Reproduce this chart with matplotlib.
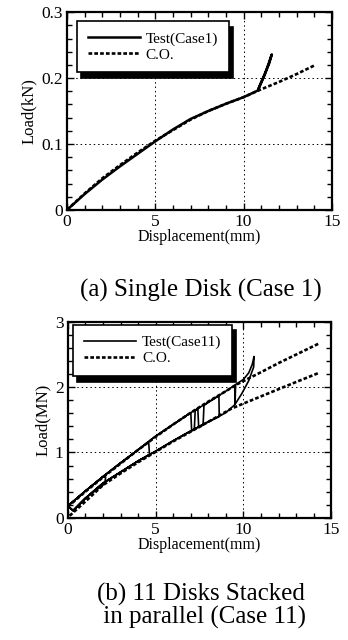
import numpy as np
import matplotlib
matplotlib.use("Agg")
from matplotlib import pyplot as plt
from matplotlib.ticker import MultipleLocator

plt.rcParams['font.family'] = ['Liberation Serif', 'DejaVu Serif']

# Case 1 : single disk
case1_disp = [0, 1, 2, 3, 4, 5, 6, 7, 8, 9, 10, 10.8, 11.2, 11.6, 11.45, 11.1, 10.85]
case1_load = [0, 0.024, 0.046, 0.066, 0.085, 0.104, 0.122, 0.138, 0.150, 0.161, 0.171,
              0.181, 0.205, 0.236, 0.222, 0.200, 0.184]
co1_disp = [0, 1, 2, 3, 4, 5, 6, 7, 8, 9, 10, 11, 12, 13, 14]
co1_load = [0, 0.025, 0.048, 0.068, 0.087, 0.105, 0.121, 0.137, 0.150, 0.161, 0.171,
            0.183, 0.194, 0.206, 0.219]

# Case 11 : 11 disks stacked in parallel (cyclic loading path)
case11_disp = [0, 1, 2, 2.15, 2.1, 1, 0.3, 0,
               1, 2, 3, 4, 4.6, 4.65, 4, 3, 2, 1, 0.3, 0,
               1, 2, 3, 4, 5, 6, 7, 7.05, 7.2, 7.25, 7.4, 7.45, 7.7, 7.75, 8, 8.6, 8.62,
               8, 7, 6, 5, 4, 3, 2, 1, 0.3, 0,
               1, 2, 3, 4, 5, 6, 7, 8, 9, 9.5, 9.52, 9.55, 10, 10.3, 10.5, 10.6,
               10.58, 10.3, 9.9, 9.5, 9.2, 9, 8, 7, 6, 5, 4, 3, 2, 1, 0.3]
case11_load = [0.18, 0.41, 0.63, 0.62, 0.52, 0.30, 0.11, 0.18,
               0.41, 0.63, 0.84, 1.04, 1.16, 0.97, 0.87, 0.70, 0.53, 0.30, 0.11, 0.18,
               0.41, 0.63, 0.84, 1.04, 1.25, 1.43, 1.61, 1.33, 1.35, 1.64, 1.67, 1.38, 1.42, 1.72, 1.77, 1.87, 1.55,
               1.47, 1.33, 1.18, 1.02, 0.87, 0.70, 0.53, 0.30, 0.11, 0.18,
               0.41, 0.63, 0.84, 1.04, 1.25, 1.43, 1.61, 1.77, 1.94, 2.03, 1.74, 2.04, 2.12, 2.22, 2.35, 2.47,
               2.31, 2.10, 1.90, 1.73, 1.66, 1.61, 1.47, 1.33, 1.18, 1.02, 0.87, 0.70, 0.53, 0.30, 0.11]
co11_up_disp = [0, 1, 2, 3, 4, 5, 6, 7, 8, 9, 9.6, 11, 12, 13, 14.3]
co11_up_load = [0.17, 0.40, 0.62, 0.83, 1.04, 1.24, 1.43, 1.61, 1.78, 1.94, 2.04,
                2.23, 2.37, 2.50, 2.67]
co11_lo_disp = [0.1, 1, 2, 3, 4, 5, 6, 7, 8, 9.3, 10, 11, 12, 13, 14.3]
co11_lo_load = [0.03, 0.25, 0.50, 0.68, 0.85, 1.01, 1.17, 1.32, 1.47, 1.67, 1.75,
                1.86, 1.97, 2.08, 2.22]

xticks = [0, 5, 10, 15]
xlabels = ['0', '5', '10', '15']
yticks1 = [0, 0.1, 0.2, 0.3]
ylabels1 = ['0', '0.1', '0.2', '0.3']
yticks11 = [0, 1, 2, 3]
ylabels11 = ['0', '1', '2', '3']

CO_STYLE = dict(color='k', lw=1.9, linestyle=(0, (1.4, 0.8)))


def style_axes(ax, yticks, ylabels, yminor, ylabel):
    ax.set_xlim(0, 15)
    ax.set_ylim(yticks[0], yticks[-1])
    ax.set_xticks(xticks)
    ax.set_xticklabels(xlabels)
    ax.set_yticks(yticks)
    ax.set_yticklabels(ylabels)
    ax.xaxis.set_minor_locator(MultipleLocator(1))
    ax.yaxis.set_minor_locator(MultipleLocator(yminor))
    ax.tick_params(which='both', direction='in', top=True, right=True, width=1.0,
                   labelsize=12.5, colors='k')
    ax.tick_params(which='major', length=5, pad=3)
    ax.tick_params(which='minor', length=3.5)
    for sp in ax.spines.values():
        sp.set_linewidth(1.6)
    ax.grid(True, which='major', color='k', lw=0.7, linestyle=(0, (1.5, 3)))
    ax.set_xlabel('Displacement(mm)', fontsize=11.5, labelpad=-1)
    ax.set_ylabel(ylabel, fontsize=12, labelpad=3)


def add_legend(ax, anchor):
    leg = ax.legend(loc='upper left', bbox_to_anchor=anchor, borderaxespad=0,
                    fontsize=11, handlelength=3.4, handletextpad=0.4, borderpad=0.7,
                    labelspacing=0.15, fancybox=False, framealpha=1,
                    edgecolor='k', shadow={'color': 'k', 'alpha': 1, 'ox': 3, 'oy': -4})
    leg.get_frame().set_linewidth(1.2)
    return leg


fig = plt.figure(figsize=(3.48, 6.40), dpi=100)

# (a) single disk
ax1 = fig.add_axes([0.1925, 0.672, 0.761, 0.309])
ax1.plot(case1_disp, case1_load, color='k', lw=1.8, label='Test(Case1)')
ax1.plot(co1_disp, co1_load, label='C.O.', **CO_STYLE)
style_axes(ax1, yticks1, ylabels1, 0.02, 'Load(kN)')
add_legend(ax1, (0.038, 0.955))
fig.text(0.578, 1 - 290 / 640, '(a) Single Disk (Case 1)', ha='center', va='center',
         fontsize=18)

# (b) 11 disks stacked
ax2 = fig.add_axes([0.195, 0.191, 0.757, 0.306])
ax2.plot(case11_disp, case11_load, color='k', lw=1.2, label='Test(Case11)')
ax2.plot(co11_up_disp, co11_up_load, label='C.O.', **CO_STYLE)
ax2.plot(co11_lo_disp, co11_lo_load, **CO_STYLE)
style_axes(ax2, yticks11, ylabels11, 0.2, 'Load(MN)')
add_legend(ax2, (0.02, 0.985))
fig.text(0.578, 1 - 606 / 640, '(b) 11 Disks Stacked\n in parallel (Case 11)',
         ha='center', va='center', fontsize=18, linespacing=0.95)

fig.savefig('out.png', dpi=100)
